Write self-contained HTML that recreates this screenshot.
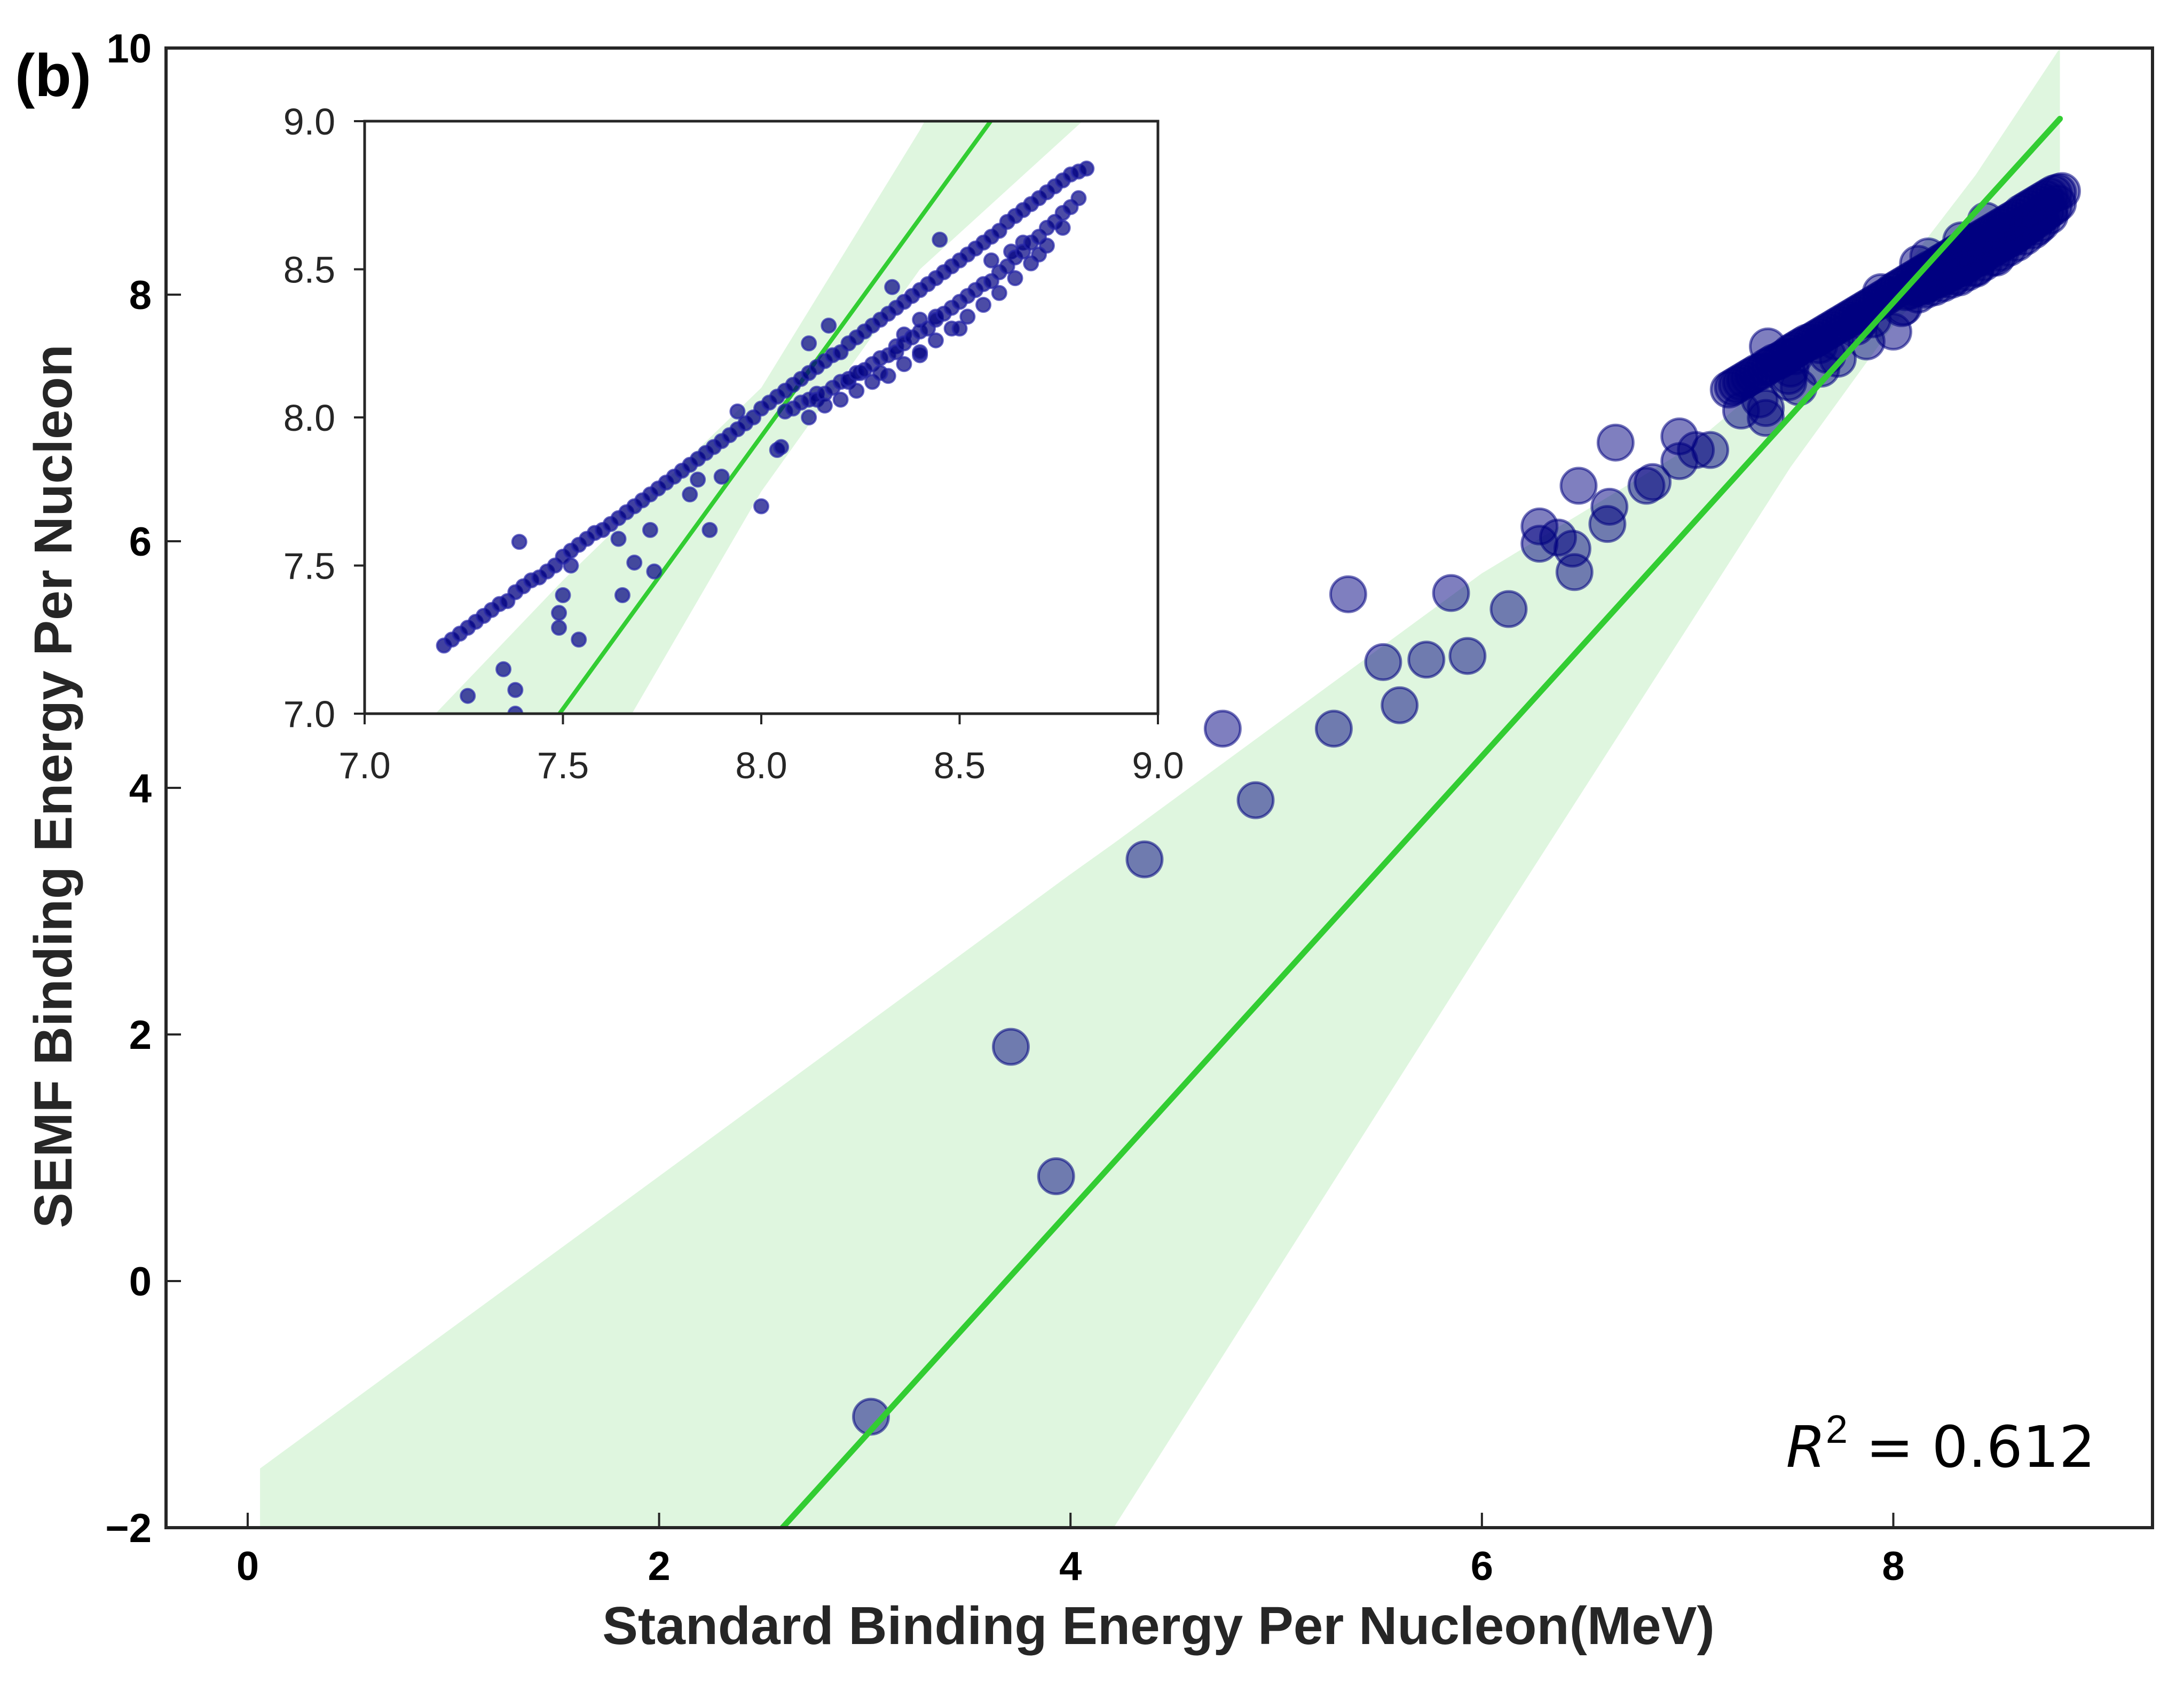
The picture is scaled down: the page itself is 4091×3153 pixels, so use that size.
<!DOCTYPE html>
<html><head><meta charset="utf-8">
<style>
html,body{margin:0;padding:0;background:#fff;width:4091px;height:3153px;overflow:hidden;}
svg{display:block;}
text{font-family:"Liberation Sans",Arial,sans-serif;}
</style></head>
<body>
<svg id="chart" width="4091" height="3153" viewBox="0 0 4091 3153" xmlns="http://www.w3.org/2000/svg">
<defs>
<clipPath id="mainClip"><rect x="311" y="90" width="3721" height="2772"/></clipPath>
<clipPath id="insetClip"><rect x="683" y="227" width="1486" height="1110"/></clipPath>
</defs>
<rect x="311" y="90" width="3721" height="2772" fill="#fff"/>
<g id="mainBand" clip-path="url(#mainClip)"></g>
<g id="mainPts" clip-path="url(#mainClip)"></g>
<g id="mainLine" clip-path="url(#mainClip)"></g>
<g id="mainAxes"></g>
<rect x="683" y="227" width="1486" height="1110" fill="#fff"/>
<g id="insetBand" clip-path="url(#insetClip)"></g>
<g id="insetLine" clip-path="url(#insetClip)"></g>
<g id="insetPts" clip-path="url(#insetClip)"></g>
<g id="insetAxes"></g>
<text x="28" y="180" font-size="112" font-weight="bold" fill="#000">(b)</text>
<text x="2170" y="3080" font-size="100" font-weight="bold" fill="#262626" text-anchor="middle">Standard Binding Energy Per Nucleon(MeV)</text>
<text transform="translate(134,1473) rotate(-90)" font-size="100" font-weight="bold" fill="#262626" text-anchor="middle">SEMF Binding Energy Per Nucleon</text>
<text x="3925" y="2748" font-size="107" fill="#000" text-anchor="end"><tspan font-family="'DejaVu Sans','Liberation Sans',sans-serif" font-style="italic">R</tspan><tspan font-size="74" dy="-45">2</tspan><tspan dy="45" font-family="'DejaVu Sans','Liberation Sans',sans-serif"> = 0.612</tspan></text>
</svg>
<script>
// ---- data ----
const mainXTicks = [0, 2, 4, 6, 8];
const mainYTicks = [-2, 0, 2, 4, 6, 8, 10];
const insetTicks = [7.0, 7.5, 8.0, 8.5, 9.0];
const fitSlope = 1.84;
const fitX0 = 2.6, fitY0 = -2.0;
const fitXStart = 2.6, fitXEnd = 8.81;
const bandX  = [0.06, 2.0, 4.0, 4.21, 6.0, 7.0, 7.5, 8.0, 8.4, 8.81];
const bandLo = [-8.0, -5.5, -2.55, -2.0, 2.7, 5.3, 6.6, 7.75, 8.5, 9.0];
const bandHi = [-1.52, 0.85, 3.3, 3.55, 5.74, 6.75, 7.45, 8.1, 8.97, 10.0];
const sparseX = [3.03,3.71,3.93,4.36,4.74,4.90,5.28,5.35,5.52,5.60,5.73,5.85,5.93,6.13,6.28,6.28,6.37,6.44,6.45,6.47,6.62,6.61,6.65,6.80,6.83,6.96,6.96,7.04,7.11];
const sparseY = [-1.10,1.90,0.85,3.42,4.48,3.90,4.48,5.57,5.02,4.67,5.04,5.58,5.07,5.45,6.12,5.98,6.03,5.94,5.75,6.45,6.28,6.14,6.80,6.45,6.48,6.65,6.85,6.74,6.74];
const outX = [7.39,7.50,7.49,7.49,7.54,7.26,7.35,7.38,7.38,7.52,7.64,7.65,7.68,7.72,7.73,7.82,7.84,7.87,7.90,8.00,8.04,8.05,7.94,8.12,8.17,8.14,8.22,8.25,8.34,8.36,8.40,8.44,8.33,8.45,8.58,8.66,8.63];
const outY = [7.58,7.40,7.34,7.29,7.25,7.06,7.15,7.08,7.00,7.50,7.59,7.40,7.51,7.62,7.48,7.74,7.79,7.62,7.80,7.70,7.89,7.90,8.02,8.25,8.31,8.08,8.12,8.15,8.24,8.28,8.33,8.34,8.44,8.60,8.53,8.59,8.56];
const diagX = [7.20,7.22,7.24,7.26,7.28,7.30,7.32,7.34,7.36,7.38,7.40,7.42,7.44,7.46,7.48,7.50,7.52,7.54,7.56,7.58,7.60,7.62,7.64,7.66,7.68,7.70,7.72,7.74,7.76,7.78,7.80,7.82,7.84,7.86,7.88,7.90,7.92,7.94,7.96,7.98,8.00,8.02,8.04,8.06,8.08,8.10,8.12,8.14,8.16,8.18,8.20,8.22,8.24,8.26,8.28,8.30,8.32,8.34,8.36,8.38,8.40,8.42,8.44,8.46,8.48,8.50,8.52,8.54,8.56,8.58,8.60,8.62,8.64,8.66,8.68,8.70,8.72,8.74,8.76,8.78,8.80,8.82];
const diagY = [7.23,7.25,7.27,7.29,7.31,7.33,7.35,7.37,7.38,7.41,7.43,7.45,7.46,7.48,7.50,7.53,7.55,7.57,7.59,7.61,7.62,7.64,7.66,7.68,7.70,7.72,7.74,7.76,7.78,7.80,7.82,7.84,7.86,7.88,7.90,7.92,7.94,7.96,7.98,8.00,8.03,8.05,8.07,8.09,8.11,8.13,8.15,8.17,8.19,8.21,8.22,8.25,8.27,8.29,8.31,8.33,8.35,8.37,8.39,8.41,8.43,8.45,8.47,8.49,8.51,8.53,8.55,8.57,8.59,8.61,8.63,8.66,8.68,8.70,8.72,8.74,8.76,8.78,8.80,8.82,8.83,8.84];
const lowX = [8.06,8.08,8.10,8.12,8.14,8.16,8.18,8.20,8.22,8.24,8.26,8.28,8.30,8.32,8.34,8.36,8.38,8.40,8.42,8.44,8.46,8.48,8.50,8.52,8.54,8.56,8.58,8.60,8.62,8.64,8.66,8.68,8.70,8.72,8.74,8.76,8.78,8.80,8.12,8.16,8.20,8.24,8.28,8.32,8.36,8.40,8.44,8.48,8.52,8.56,8.60,8.64,8.68,8.72,8.76,8.30,8.40,8.50,8.70];
const lowY = [8.02,8.03,8.05,8.06,8.06,8.08,8.10,8.12,8.13,8.15,8.16,8.18,8.20,8.21,8.22,8.25,8.27,8.29,8.30,8.33,8.35,8.37,8.39,8.41,8.43,8.45,8.46,8.49,8.51,8.54,8.56,8.59,8.61,8.64,8.66,8.69,8.71,8.74,8.00,8.04,8.06,8.09,8.12,8.14,8.18,8.21,8.26,8.30,8.34,8.38,8.42,8.47,8.52,8.58,8.64,8.15,8.22,8.30,8.55];

// ---- scales ----
const M = {l:311, r:4032, t:90, b:2862, x0:-0.397, x1:9.26, y0:-2, y1:10};
const I = {l:683, r:2169, t:227, b:1337, x0:7, x1:9, y0:7, y1:9};
const sx = (A,v)=>A.l+(v-A.x0)/(A.x1-A.x0)*(A.r-A.l);
const sy = (A,v)=>A.b-(v-A.y0)/(A.y1-A.y0)*(A.b-A.t);
const NS = "http://www.w3.org/2000/svg";
function mk(tag, parent, attrs){const e=document.createElementNS(NS,tag);for(const k in attrs)e.setAttribute(k,attrs[k]);parent.appendChild(e);return e;}

function drawBand(A, g){
  let pts=[];
  for(let i=0;i<bandX.length;i++) pts.push(sx(A,bandX[i])+","+sy(A,bandHi[i]));
  for(let i=bandX.length-1;i>=0;i--) pts.push(sx(A,bandX[i])+","+sy(A,bandLo[i]));
  const p=mk("polygon",g,{points:pts.join(" "),fill:"#dff6df"});
  
  
}
function drawLine(A, g, w){
  const yA=fitY0+fitSlope*(fitXStart-fitX0), yB=fitY0+fitSlope*(fitXEnd-fitX0);
  const l=mk("line",g,{x1:sx(A,fitXStart),y1:sy(A,yA),x2:sx(A,fitXEnd),y2:sy(A,yB),stroke:"#32cd32","stroke-width":w,"stroke-linecap":"round"});
  
  
}
function drawPts(A, g, xs, ys, r, fill, stroke, sw){
  for(let i=0;i<xs.length;i++){
    const c=mk("circle",g,{cx:sx(A,xs[i]),cy:sy(A,ys[i]),r:r,fill:fill,stroke:stroke,"stroke-width":sw});
    
    
  }
}
// main
drawBand(M, document.getElementById("mainBand"));
const mp=document.getElementById("mainPts");
drawPts(M, mp, sparseX, sparseY, 33, "rgba(0,0,128,0.5)", "rgba(0,0,128,0.55)", 5);
drawPts(M, mp, outX, outY, 33, "rgba(0,0,128,0.5)", "rgba(0,0,128,0.55)", 5);
drawPts(M, mp, lowX, lowY, 33, "rgba(0,0,128,0.5)", "rgba(0,0,128,0.55)", 5);
drawPts(M, mp, diagX, diagY, 33, "rgba(0,0,128,0.5)", "rgba(0,0,128,0.55)", 5);
drawLine(M, document.getElementById("mainLine"), 11);
// inset
drawBand(I, document.getElementById("insetBand"));
drawLine(I, document.getElementById("insetLine"), 8);
const ip=document.getElementById("insetPts");
drawPts(I, ip, outX, outY, 13, "rgba(0,0,128,0.7)", "rgba(40,40,170,0.7)", 4);
drawPts(I, ip, lowX, lowY, 13, "rgba(0,0,128,0.7)", "rgba(40,40,170,0.7)", 4);
drawPts(I, ip, diagX, diagY, 13, "rgba(0,0,128,0.75)", "rgba(40,40,170,0.7)", 4);

// axes main
const ma=document.getElementById("mainAxes");
const frame=mk("rect",ma,{x:M.l,y:M.t,width:M.r-M.l,height:M.b-M.t,fill:"none",stroke:"#262626","stroke-width":6});


mainXTicks.forEach(v=>{
  const x=sx(M,v);
  const t=mk("line",ma,{x1:x,y1:M.b,x2:x,y2:M.b-28,stroke:"#262626","stroke-width":4});
  
  
  const tx=mk("text",ma,{x:x,y:2960,"font-size":76,"font-weight":"bold","text-anchor":"middle",fill:"#000"});
  tx.textContent=String(v);
  
  
});
mainYTicks.forEach(v=>{
  const y=sy(M,v);
  const t=mk("line",ma,{x1:M.l,y1:y,x2:M.l+28,y2:y,stroke:"#262626","stroke-width":4});
  
  
  const tx=mk("text",ma,{x:284,y:y+27,"font-size":76,"font-weight":"bold","text-anchor":"end",fill:"#000"});
  tx.textContent=v<0?"\u2212"+Math.abs(v):String(v);
  
  
});
// axes inset
const ia=document.getElementById("insetAxes");
const iframe=mk("rect",ia,{x:I.l,y:I.t,width:I.r-I.l,height:I.b-I.t,fill:"none",stroke:"#262626","stroke-width":5});


insetTicks.forEach(v=>{
  const x=sx(I,v), y=sy(I,v);
  const t1=mk("line",ia,{x1:x,y1:I.b,x2:x,y2:I.b+20,stroke:"#262626","stroke-width":4});
  
  
  const l1=mk("text",ia,{x:x,y:1458,"font-size":70,"text-anchor":"middle",fill:"#262626"});
  l1.textContent=v.toFixed(1);
  
  
  const t2=mk("line",ia,{x1:I.l,y1:y,x2:I.l-20,y2:y,stroke:"#262626","stroke-width":4});
  
  
  const l2=mk("text",ia,{x:628,y:y+25,"font-size":70,"text-anchor":"end",fill:"#262626"});
  l2.textContent=v.toFixed(1);
  
  
});
</script>
</body></html>
